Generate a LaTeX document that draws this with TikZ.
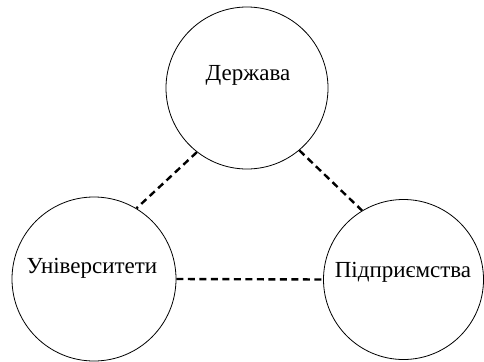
\documentclass[tikz,border=0pt]{standalone}
\usepackage{fontspec}
\setmainfont{Liberation Serif}
\begin{document}
\begin{tikzpicture}[x=1pt,y=-1pt,
  ring/.style={draw,circle,inner sep=0pt,line width=0.8pt},
  lbl/.style={anchor=base,inner sep=0pt,font=\fontsize{23}{27}\selectfont},
  link/.style={line width=2.4pt,dash pattern=on 7pt off 4.5pt}]
\useasboundingbox (0,0) rectangle (484,361);
\node[ring,minimum size=162pt] (d) at (247,88) {};
\node[ring,minimum size=164pt] (u) at (94,279) {};
\node[ring,minimum size=160pt] (p) at (403.5,279.5) {};
\node[lbl] (dt) at (248,81) {Держава};
\node[lbl] (ut) at (92,273) {Університети};
\node[lbl] (pt) at (403,277) {Підприємства};
\draw[link] (d.232) -- (u.59);
\draw[link] (d.310) -- (p.121);
\draw[link] (u.east) -- (p.west);
\end{tikzpicture}
\end{document}
